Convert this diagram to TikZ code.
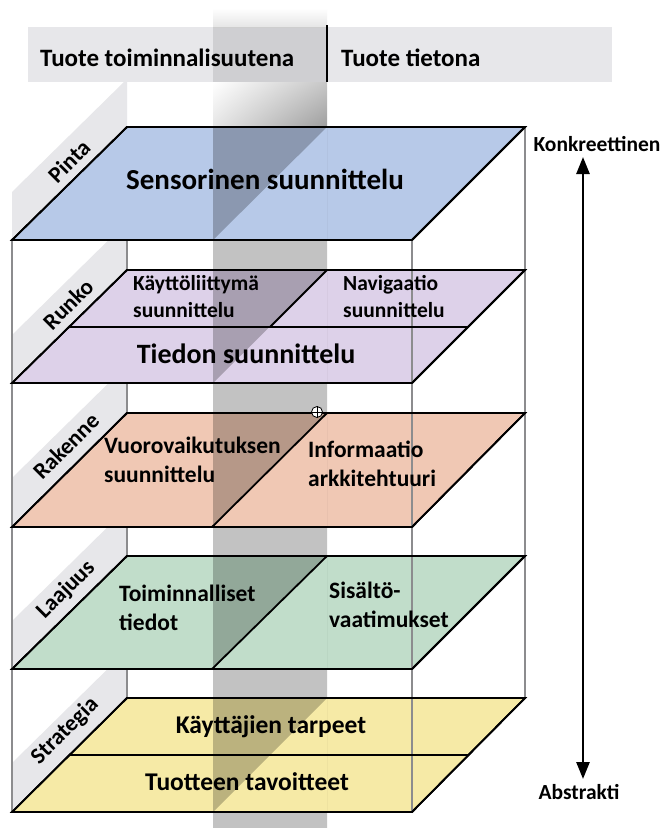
\documentclass[tikz,border=0pt]{standalone}
\usepackage{fontspec}
\setmainfont{Carlito}
\usepackage{tikz}
\usetikzlibrary{arrows.meta,shadings}

\definecolor{pintablue}{RGB}{183,201,232}
\definecolor{runkolila}{RGB}{221,209,233}
\definecolor{rakennepink}{RGB}{240,200,180}
\definecolor{laajuusgreen}{RGB}{193,221,202}
\definecolor{strategiayellow}{RGB}{246,234,166}
\definecolor{bandgray}{RGB}{231,231,234}
\definecolor{postgray}{RGB}{140,140,142}

\newcommand{\fsz}[2]{\fontsize{#1}{#2}\selectfont\bfseries}

\begin{document}
\begin{tikzpicture}[x=1pt,y=-1pt,
  plane/.style={draw=black,line width=1.8pt,line join=miter},
  post/.style={draw=postgray,line width=1.5pt},
  sidebar/.style={fill=bandgray},
  lbl/.style={inner sep=0pt,rotate=45,font=\fsz{23}{23}},
  txt/.style={inner sep=0pt,anchor=base west,align=left,font=\fsz{23.5}{29}},
  small/.style={inner sep=0pt,anchor=base west,align=left,font=\fsz{21.5}{27}},
  big/.style={inner sep=0pt,anchor=base,font=\fsz{#1}{#1}}]
\useasboundingbox (0,0) rectangle (662,828);
\fill[white] (0,0) rectangle (662,828);
%Side bars
\foreach \t in {127,270,413,556,698}
  \fill[sidebar] (127,\t-48) -- (127,\t) -- (12,\t+113) -- (12,\t+65) -- cycle;
%Header
\fill[bandgray] (28,27) rectangle (612,82);
%Back posts
\draw[post] (127,127) -- (127,698);
\draw[post] (525,127) -- (525,698);
%Planes
\draw[plane,fill=pintablue] (127,127) -- (525,127) -- (412,240) -- (12,240) -- cycle;
\draw[plane,fill=runkolila] (127,270) -- (525,270) -- (412,383) -- (12,383) -- cycle;
\draw[plane,fill=rakennepink] (127,413) -- (525,413) -- (412,527) -- (12,527) -- cycle;
\draw[plane,fill=laajuusgreen] (127,556) -- (525,556) -- (412,669) -- (12,669) -- cycle;
\draw[plane,fill=strategiayellow] (127,698) -- (525,698) -- (412,812) -- (12,812) -- cycle;
%Front posts
\draw[post] (12,240) -- (12,812);
\draw[post] (412,240) -- (412,812);
%Stripe
\shade[top color=white,bottom color=black!10] (213,8) rectangle (327,27);
\fill[black,opacity=0.1] (213,27) rectangle (327,82);
\shade[upper left=white,upper right=black!22,lower left=black!10,lower right=black!38] (213,82) rectangle (327,127);
\fill[black,opacity=0.24,even odd rule] (213,127) rectangle (327,828)
  (327,127) -- (327,240) -- (213,240) -- cycle
  (327,270) -- (327,383) -- (213,383) -- cycle
  (327,413) -- (327,527) -- (213,527) -- cycle
  (327,556) -- (327,669) -- (213,669) -- cycle
  (327,698) -- (327,812) -- (213,812) -- cycle;
%Plane edges again
\draw[plane] (127,127) -- (525,127) -- (412,240) -- (12,240) -- cycle;
\draw[plane] (127,270) -- (525,270) -- (412,383) -- (12,383) -- cycle;
\draw[plane] (70,327) -- (468,327);
\draw[plane] (327,270) -- (270,327);
\draw[plane] (127,413) -- (525,413) -- (412,527) -- (12,527) -- cycle;
\draw[plane] (327,413) -- (212,527);
\draw[plane] (127,556) -- (525,556) -- (412,669) -- (12,669) -- cycle;
\draw[plane] (327,556) -- (212,669);
\draw[plane] (127,698) -- (525,698) -- (412,812) -- (12,812) -- cycle;
\draw[plane] (70,755) -- (468,755);
\draw[line width=1.8pt] (327,25) -- (327,82);
%Text
\node[big=25,anchor=base west] (toiminta) at (40,66) {Tuote toiminnalisuutena};
\node[big=25,anchor=base west] (tieto) at (341,66) {Tuote tietona};
\node[lbl] (pinta) at (69,161) {Pinta};
\node[lbl] (runko) at (68,304) {Runko};
\node[lbl] (rakenne) at (66,446) {Rakenne};
\node[lbl] (laajuus) at (66,590) {Laajuus};
\node[lbl] (strategia) at (65,731) {Strategia};
\node[big=29] (sensor) at (265,189) {Sensorinen suunnittelu};
\node[small] (kaytto) at (133,317) {Käyttöliittymä\\suunnittelu};
\node[small] (navi) at (343,317) {Navigaatio\\suunnittelu};
\node[big=28] (tiedon) at (246,363) {Tiedon suunnittelu};
\node[txt] (vuoro) at (104,482) {Vuorovaikutuksen\\suunnittelu};
\node[txt] (info) at (308,486) {Informaatio\\arkkitehtuuri};
\node[txt] (toimi) at (119,630) {Toiminnalliset\\tiedot};
\node[txt] (sisalto) at (329,627) {Sisältö-\\vaatimukset};
\node[big=25.5] (tarpeet) at (271,733) {Käyttäjien tarpeet};
\node[big=25.5] (tavoite) at (247,790) {Tuotteen tavoitteet};
\node[big=21.5] (konkr) at (597,151) {Konkreettinen};
\node[big=21.5] (abstr) at (579,799) {Abstrakti};
\node[circle,draw,fill=white,line width=0.8pt,inner sep=0pt,minimum size=11pt] (merkki) at (317,412) {};
\draw[line width=0.8pt] (merkki.north) -- (merkki.south) (merkki.west) -- (merkki.east);
%Arrow
\coordinate (ylos) at (583,157);
\coordinate (alas) at (583,779);
\draw[line width=2.6pt,{Triangle[width=13pt,length=17pt]}-{Triangle[width=13pt,length=17pt]}] (ylos) -- (alas);
\end{tikzpicture}
\end{document}
